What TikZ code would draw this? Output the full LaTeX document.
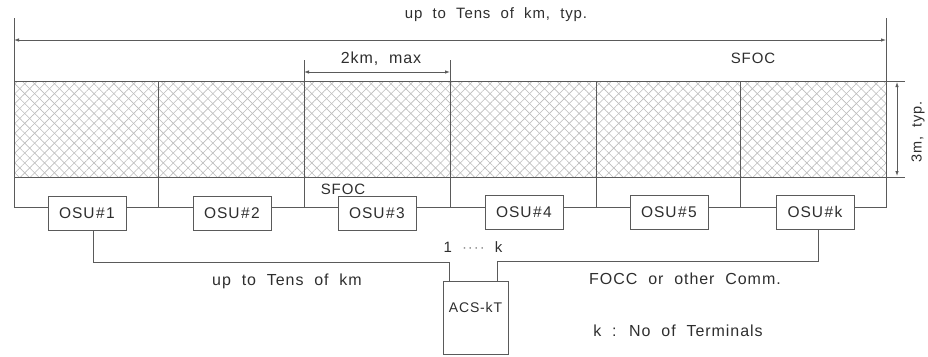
\documentclass[tikz,border=0pt]{standalone}
\usepackage{fontspec}
\setmainfont[WordSpace=2.0,LetterSpace=6]{Liberation Sans}
\usetikzlibrary{patterns.meta,arrows.meta,calc}
\definecolor{ln}{HTML}{5A5A5A}
\definecolor{hatch}{HTML}{BCBCBC}
\definecolor{tx}{HTML}{2E2E2E}
\begin{document}
\begin{tikzpicture}[x=1pt,y=-1pt,
  lnst/.style={draw=ln,line width=0.9pt},
  dimst/.style={draw=ln,line width=0.8pt,{Latex[length=5pt,width=3.5pt]}-{Latex[length=5pt,width=3.5pt]}},
  txt/.style={text=tx,font=\fontsize{16}{18}\selectfont,inner sep=0pt},
  osu/.style={draw=ln,line width=0.9pt,fill=white,minimum width=78pt,minimum height=34pt,inner sep=0pt,text=tx,font=\fontsize{15.5}{18}\selectfont}]
\useasboundingbox (0,0) rectangle (928,356);
% hatched band
\fill[pattern={Lines[angle=45,distance=7pt,line width=0.6pt]},pattern color=hatch] (14,81) rectangle (886,177);
\fill[pattern={Lines[angle=-45,distance=7pt,line width=0.6pt]},pattern color=hatch] (14,81) rectangle (886,177);
% outline
\draw[lnst] (14,18) -- (14,207) -- (886,207) -- (886,18);
\draw[lnst] (14,81) -- (905,81);
\draw[lnst] (14,177) -- (905,177);
\foreach \x in {158,596,740} \draw[lnst] (\x,81) -- (\x,207);
\foreach \x in {304,450} \draw[lnst] (\x,60) -- (\x,207);
% dimensions
\draw[dimst] (14,40) -- (886,40);
\draw[dimst] (304,72) -- (450,72);
\draw[dimst] (897,82) -- (897,176);
% texts
\node[txt,font=\fontsize{15}{17}\selectfont] (ttop) at (496,15) {up to Tens of km, typ.};
\node[txt] (t2km) at (381,59) {2km, max};
\node[txt,font=\fontsize{15}{18}\selectfont] (sfoc1) at (753,58) {SFOC};
\node[txt,font=\fontsize{15}{18}\selectfont] (sfoc2) at (343,189) {SFOC};
\node[txt,font=\fontsize{14.5}{16}\selectfont,rotate=90] (t3m) at (918,132) {3m, typ.};
% OSU boxes
\node[osu] (osu1) at (87,213) {OSU\kern1.5pt\#\kern1.5pt1};
\node[osu] (osu2) at (232,213) {OSU\kern1.5pt\#\kern1.5pt2};
\node[osu] (osu3) at (377,213) {OSU\kern1.5pt\#\kern1.5pt3};
\node[osu] (osu4) at (524,212) {OSU\kern1.5pt\#\kern1.5pt4};
\node[osu] (osu5) at (669,212) {OSU\kern1.5pt\#\kern1.5pt5};
\node[osu] (osuk) at (815,212) {OSU\kern1.5pt\#\kern1.5pt k};
% ACS
\node[draw=ln,line width=0.9pt,anchor=north,minimum width=65pt,inner xsep=0pt,inner ysep=4pt,text height=27pt,text depth=38pt,text=tx,font=\fontsize{14}{16}\selectfont] (acs) at (475.5,281) {ACS-kT};
% connections
\draw[lnst] ($(osu1.south)+(6,0)$) |- ($(acs.north west)+(7,-19)$) -- ($(acs.north west)+(7,0)$);
\draw[lnst] ($(acs.north east)+(-11,0)$) -- ($(acs.north east)+(-11,-20)$) -| ($(osuk.south)+(3,0)$);
\node[txt,font=\fontsize{15}{18}\selectfont] (lbl) at (473,247) {1 \textcolor{ln!70}{····} k};
\node[txt] (tkm) at (287,281) {up to Tens of km};
\node[txt] (focc) at (685,279) {FOCC or other Comm.};
\node[txt] (kno) at (678,331) {k : No of Terminals};
\end{tikzpicture}
\end{document}
